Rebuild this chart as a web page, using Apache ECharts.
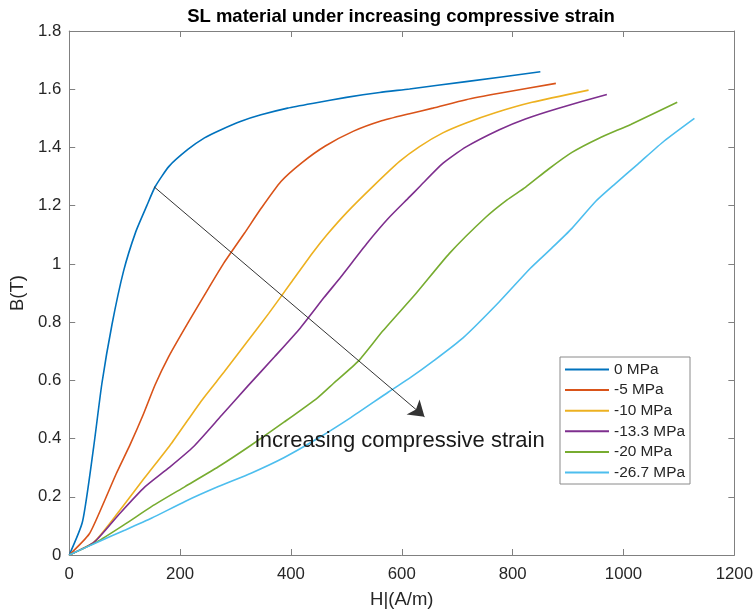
<!DOCTYPE html>
<html>
<head>
<meta charset="utf-8">
<script src="https://cdn.jsdelivr.net/npm/echarts@6/dist/echarts.min.js"></script>
<style>
  html, body { margin: 0; padding: 0; background: #fff; }
  #chart { width: 756px; height: 614px; }
</style>
</head>
<body>
<div id="chart"></div>
<script>
// Magnetisation curves B(H) of the SL material at several compressive stresses
const seriesNames = ['0 MPa', '-5 MPa', '-10 MPa', '-13.3 MPa', '-20 MPa', '-26.7 MPa'];
const seriesColors = ['#0072BD', '#D95319', '#EDB120', '#7E2F8E', '#77AC30', '#4DBEEE'];

const h0 = [0, 24, 44, 59, 77, 98, 120, 140, 155, 180, 214, 244, 274, 310, 346, 394, 441, 500, 560, 614, 716, 850];
const b0 = [0, 0.115, 0.37, 0.59, 0.79, 0.975, 1.11, 1.2, 1.265, 1.335, 1.393, 1.433, 1.461, 1.49, 1.512, 1.535, 1.552, 1.572, 1.589, 1.601, 1.626, 1.66];

const h1 = [0, 36, 60, 85, 110, 133, 155, 179, 215, 251, 278, 316, 346, 382, 420, 462, 513, 561, 614, 656, 716, 776, 878];
const b1 = [0, 0.072, 0.17, 0.28, 0.38, 0.48, 0.585, 0.68, 0.8, 0.915, 1.0, 1.105, 1.19, 1.283, 1.348, 1.405, 1.456, 1.49, 1.516, 1.535, 1.564, 1.586, 1.62];

const h2 = [0, 45, 90, 136, 185, 239, 280, 320, 360, 400, 440, 465, 501, 549, 596, 632, 674, 716, 770, 835, 937];
const b2 = [0, 0.045, 0.15, 0.265, 0.385, 0.531, 0.63, 0.73, 0.83, 0.935, 1.04, 1.1, 1.177, 1.268, 1.352, 1.403, 1.45, 1.484, 1.52, 1.555, 1.597];

const h3 = [0, 45, 90, 136, 180, 224, 275, 322, 370, 417, 460, 490, 537, 575, 614, 632, 674, 716, 776, 823, 883, 970];
const b3 = [0, 0.044, 0.14, 0.233, 0.3, 0.372, 0.48, 0.58, 0.68, 0.78, 0.885, 0.955, 1.07, 1.155, 1.23, 1.265, 1.345, 1.402, 1.461, 1.498, 1.535, 1.582];

const h4 = [0, 50, 100, 149, 209, 269, 328, 388, 448, 477, 522, 566, 626, 686, 752, 790, 823, 865, 907, 955, 1014, 1097];
const b4 = [0, 0.045, 0.105, 0.167, 0.235, 0.303, 0.377, 0.457, 0.54, 0.59, 0.667, 0.77, 0.899, 1.036, 1.161, 1.22, 1.263, 1.326, 1.383, 1.431, 1.48, 1.555];

const h5 = [0, 52, 100, 149, 209, 269, 328, 388, 448, 508, 576, 616, 656, 710, 776, 832, 871, 907, 950, 985, 1026, 1074, 1128];
const b5 = [0, 0.045, 0.085, 0.127, 0.184, 0.235, 0.281, 0.335, 0.4, 0.472, 0.56, 0.61, 0.665, 0.745, 0.87, 0.985, 1.055, 1.122, 1.215, 1.275, 1.343, 1.423, 1.5];

const hSets = [h0, h1, h2, h3, h4, h5];
const bSets = [b0, b1, b2, b3, b4, b5];

// Annotation arrow (start and end in data units) and its caption
const arrowStart = [153, 1.265];
const arrowEnd = [641, 0.475];
const captionText = 'increasing compressive strain';
const captionAt = [335, 0.392];

const xTicks = { min: 0, max: 1200, interval: 200 };
const yTicks = { min: 0, max: 1.8, interval: 0.2 };

const FONT = '"Liberation Sans", Arial, Helvetica, sans-serif';
const AXIS_COLOR = '#808080';
const TEXT_COLOR = '#262626';

function zip(hs, bs) {
  return hs.map((h, i) => [h, bs[i]]);
}

const boxAxis = (extra) => Object.assign({
  type: 'value',
  axisLine: { show: true, onZero: false, lineStyle: { color: AXIS_COLOR, width: 1 } },
  axisTick: { show: true, inside: true, length: 6, lineStyle: { color: AXIS_COLOR, width: 1 } },
  splitLine: { show: false },
}, extra);

const series = seriesNames.map((name, i) => ({
  name: name,
  type: 'line',
  xAxisIndex: 0,
  yAxisIndex: 0,
  data: zip(hSets[i], bSets[i]),
  showSymbol: false,
  symbol: 'none',
  smooth: 0.2,
  lineStyle: { color: seriesColors[i], width: 1.6 },
  itemStyle: { color: seriesColors[i] },
  emphasis: { disabled: true },
  z: 3
}));

// Arrow across the family of curves
series[0].markLine = {
  silent: true,
  animation: false,
  symbol: ['none', 'arrow'],
  symbolSize: 15,
  label: { show: false },
  lineStyle: { color: '#333333', width: 1, type: 'solid' },
  itemStyle: { color: '#111111' },
  emphasis: { disabled: true },
  data: [[{ coord: arrowStart }, { coord: arrowEnd }]]
};

// Caption under the arrow
series[5].markPoint = {
  silent: true,
  animation: false,
  symbol: 'circle',
  symbolSize: 0,
  label: {
    show: true,
    position: 'right',
    distance: 0,
    formatter: captionText,
    fontFamily: FONT,
    fontSize: 22,
    color: '#1a1a1a'
  },
  data: [{ coord: captionAt }]
};

const plainNumber = (v) => String(Math.round(v * 1000) / 1000);

const option = {
  animation: false,
  backgroundColor: '#ffffff',
  title: {
    text: 'SL material under increasing compressive strain',
    left: 401,
    top: 7,
    padding: 0,
    textAlign: 'center',
    textStyle: { fontFamily: FONT, fontSize: 18.5, fontWeight: 'bold', color: '#000000' }
  },
  legend: {
    orient: 'vertical',
    left: 560,
    top: 357,
    padding: [5, 5, 4, 5],
    itemWidth: 44,
    itemHeight: 2,
    itemGap: 5.6,
    icon: 'rect',
    backgroundColor: '#ffffff',
    borderColor: '#8a8a8a',
    borderWidth: 1,
    borderRadius: 0,
    selectedMode: false,
    textStyle: { fontFamily: FONT, fontSize: 15.4, lineHeight: 15, color: TEXT_COLOR },
    data: seriesNames
  },
  grid: { left: 67, right: 21, top: 31, bottom: 55, containLabel: false },
  xAxis: [
    boxAxis(Object.assign({}, xTicks, {
      position: 'bottom',
      name: 'H|(A/m)',
      nameLocation: 'middle',
      nameGap: 35,
      nameTextStyle: { fontFamily: FONT, fontSize: 18.5, color: TEXT_COLOR },
      axisLabel: { show: true, margin: 11, fontFamily: FONT, fontSize: 16.8, color: TEXT_COLOR, formatter: plainNumber }
    })),
    boxAxis(Object.assign({}, xTicks, {
      position: 'top',
      axisLabel: { show: false }
    }))
  ],
  yAxis: [
    boxAxis(Object.assign({}, yTicks, {
      position: 'left',
      name: 'B(T)',
      nameLocation: 'middle',
      nameGap: 39,
      nameRotate: 90,
      nameTextStyle: { fontFamily: FONT, fontSize: 18.5, color: TEXT_COLOR },
      axisLabel: { show: true, margin: 8, fontFamily: FONT, fontSize: 16.8, color: TEXT_COLOR, formatter: plainNumber }
    })),
    boxAxis(Object.assign({}, yTicks, {
      position: 'right',
      axisLabel: { show: false }
    }))
  ],
  series: series
};

const chart = echarts.init(document.getElementById('chart'), null, { renderer: 'canvas' });
chart.setOption(option);
</script>
</body>
</html>
